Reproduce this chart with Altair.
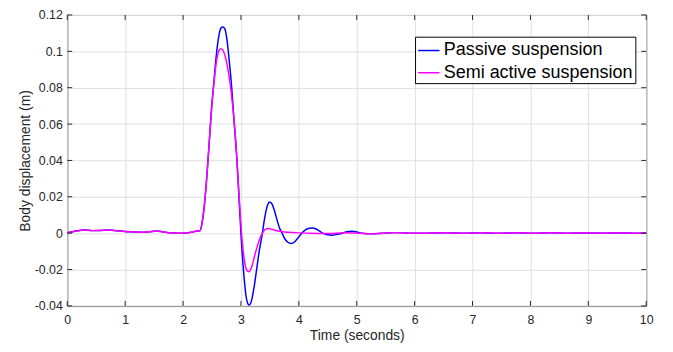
import altair as alt
import pandas as pd

# ---- data ----
pre_t = [0.0, 0.15, 0.29, 0.43, 0.57, 0.72, 0.86, 1.0, 1.14, 1.28, 1.41, 1.54, 1.66, 1.79, 1.9, 1.99, 2.12, 2.25]
pre_y = [0.0002, 0.0012, 0.0018, 0.0014, 0.0015, 0.0017, 0.0013, 0.0009, 0.0007, 0.0005, 0.0008, 0.0012, 0.0007, 0.0002, 0.0, 0.0, 0.0004, 0.0012]

passive_t = [2.29, 2.33, 2.37, 2.41, 2.45, 2.49, 2.535, 2.575, 2.615, 2.655, 2.686, 2.72, 2.76, 2.80, 2.84, 2.88,
             2.925, 2.965, 3.005, 3.045, 3.085, 3.115, 3.14, 3.165, 3.19, 3.23, 3.27, 3.31, 3.37, 3.40, 3.43, 3.46,
             3.497, 3.54, 3.58, 3.63, 3.67, 3.71, 3.76, 3.81, 3.867, 3.92, 3.98, 4.05, 4.12, 4.18, 4.237, 4.30, 4.36,
             4.41, 4.49, 4.577, 4.66, 4.75, 4.83, 4.918, 5.0, 5.08]
passive_y = [0.0013, 0.006, 0.016, 0.031, 0.049, 0.068, 0.084, 0.098, 0.108, 0.1128, 0.1134, 0.1125, 0.106, 0.094,
             0.080, 0.062, 0.043, 0.020, -0.003, -0.021, -0.034, -0.0385, -0.0395, -0.0388, -0.036, -0.029, -0.020,
             -0.011, 0.0, 0.0065, 0.0118, 0.0155, 0.0171, 0.0158, 0.0122, 0.0065, 0.0025, 0.0, -0.0032, -0.0050,
             -0.0057, -0.0050, -0.0028, 0.0, 0.0019, 0.0027, 0.0029, 0.0023, 0.0011, 0.0, -0.0009, -0.0011, -0.0006,
             0.0, 0.0008, 0.0011, 0.0007, 0.0]

semi_t = [2.29, 2.33, 2.37, 2.41, 2.45, 2.49, 2.535, 2.575, 2.615, 2.652, 2.69, 2.73, 2.77, 2.81, 2.85, 2.895,
          2.935, 2.975, 3.015, 3.055, 3.095, 3.138, 3.18, 3.22, 3.27, 3.32, 3.37, 3.42, 3.47, 3.53, 3.62, 3.75,
          3.95, 4.2, 4.5, 4.8, 5.08]
semi_y = [0.0013, 0.006, 0.016, 0.031, 0.049, 0.067, 0.083, 0.094, 0.100, 0.1014, 0.1005, 0.097, 0.091, 0.083,
          0.072, 0.057, 0.038, 0.017, -0.002, -0.014, -0.020, -0.0212, -0.019, -0.0145, -0.0085, -0.0035, 0.0,
          0.0021, 0.0026, 0.0022, 0.0013, 0.0007, 0.0003, 0.0, -0.0002, 0.0002, 0.0]

tail_t = [5.25, 5.45, 5.65, 5.85, 6.05, 6.3, 6.55, 6.85, 7.15, 7.45, 7.75, 8.05, 8.35, 8.65, 8.95, 9.25, 9.55, 9.8, 10.0]
tail_y = [-0.0003, 0.0, 0.0003, 0.0001, -0.0001, 0.0001, 0.0002, 0.0, 0.0002, 0.0, 0.0002, 0.0, 0.0002, 0.0,
          0.0001, 0.0, 0.0001, 0.0, 0.0001]

series_names = ["Passive suspension", "Semi active suspension"]
series_colors = ["#0000ff", "#ff00ff"]
x_ticks = [0, 1, 2, 3, 4, 5, 6, 7, 8, 9, 10]
y_ticks = [-0.04, -0.02, 0, 0.02, 0.04, 0.06, 0.08, 0.1, 0.12]

# ---- build table ----
rows = []
for name, ts, ys in [(series_names[0], pre_t + passive_t + tail_t, pre_y + passive_y + tail_y),
                     (series_names[1], pre_t + semi_t + tail_t, pre_y + semi_y + tail_y)]:
    for i, (t, y) in enumerate(zip(ts, ys)):
        rows.append({"series": name, "t": t, "y": y, "order": i})
df = pd.DataFrame(rows)

W, H = 586, 294.5
AX = "#262626"
FONT = "Liberation Sans"

xscale = alt.Scale(domain=[0, 10], nice=False, zero=False)
yscale = alt.Scale(domain=[-0.04, 0.12], nice=False, zero=False)
x_axis = alt.Axis(values=x_ticks, title="Time (seconds)", grid=True, ticks=False, domain=False,
                  labelPadding=8, titlePadding=2, format="d", labelOverlap=False, labelFlush=False)
y_axis = alt.Axis(values=y_ticks, title="Body displacement (m)", grid=True, ticks=False, domain=False,
                  labelPadding=5, titlePadding=2, labelOverlap=False, labelFlush=False,
                  labelExpr="replace(format(datum.value, '.2~f'), '\u2212', '-')")

lines = alt.Chart(df).mark_line(interpolate="monotone", strokeWidth=1.5).encode(
    x=alt.X("t:Q", scale=xscale, axis=x_axis),
    y=alt.Y("y:Q", scale=yscale, axis=y_axis),
    color=alt.Color("series:N",
                    scale=alt.Scale(domain=series_names, range=series_colors),
                    legend=alt.Legend(title=None, orient="none", legendX=352, legendY=22,
                                      symbolType="stroke", symbolSize=467, symbolStrokeWidth=1.5,
                                      labelFontSize=18.2, labelColor="black", labelFont=FONT,
                                      labelOffset=3, padding=2, rowPadding=1.5,
                                      strokeColor="black", fillColor="white", labelLimit=400)),
    order="order:Q",
)

xt = pd.DataFrame({"t": x_ticks})
yt = pd.DataFrame({"y": y_ticks})
tick_len = 5
top_ticks = alt.Chart(xt).mark_rule(color=AX, strokeWidth=1).encode(
    x=alt.X("t:Q", scale=xscale, axis=x_axis), y=alt.value(0), y2=alt.value(tick_len))
bot_ticks = alt.Chart(xt).mark_rule(color=AX, strokeWidth=1).encode(
    x=alt.X("t:Q", scale=xscale, axis=x_axis), y=alt.value(H), y2=alt.value(H - tick_len))
left_ticks = alt.Chart(yt).mark_rule(color=AX, strokeWidth=1).encode(
    y=alt.Y("y:Q", scale=yscale, axis=y_axis), x=alt.value(0), x2=alt.value(tick_len))
right_ticks = alt.Chart(yt).mark_rule(color=AX, strokeWidth=1).encode(
    y=alt.Y("y:Q", scale=yscale, axis=y_axis), x=alt.value(W), x2=alt.value(W - tick_len))

chart = alt.layer(lines, top_ticks, bot_ticks, left_ticks, right_ticks).properties(
    width=W, height=H,
    background="white",
    autosize=alt.AutoSizeParams(type="none"),
    padding={"left": 60, "top": 5, "right": 19, "bottom": 36.5},
).configure_view(
    stroke=AX, strokeWidth=1
).configure_axis(
    gridColor="#dfdfdf", gridWidth=1,
    labelFont=FONT, labelFontSize=12.5, labelColor=AX,
    titleFont=FONT, titleFontSize=14, titleColor=AX, titleFontWeight="normal",
)

chart.save("out.html", embed_options={"renderer": "svg", "actions": False})
